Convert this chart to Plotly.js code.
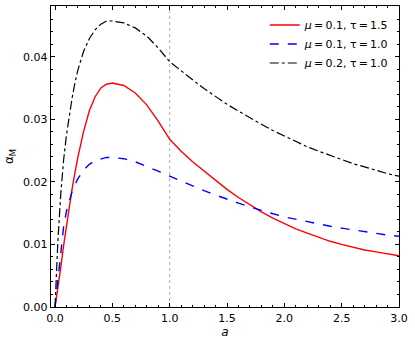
<!DOCTYPE html>
<html>
<head>
<meta charset="utf-8">
<script src="https://cdn.plot.ly/plotly-3.0.1.min.js"></script>
<style>
  html, body { margin: 0; padding: 0; background: #fff; }
  #plot { width: 415px; height: 343px; }
</style>
</head>
<body>
<div id="plot"></div>
<script>
// scale factor a
let aVals = [0, 0.025, 0.05, 0.075, 0.1, 0.125, 0.15, 0.175, 0.2, 0.25, 0.3, 0.35, 0.4, 0.45, 0.5,
             0.6, 0.7, 0.8, 0.9, 1.0, 1.1, 1.2, 1.3, 1.4, 1.5, 1.6, 1.7, 1.8, 1.9, 2.0,
             2.1, 2.2, 2.3, 2.4, 2.5, 2.6, 2.7, 2.8, 2.9, 3.0];

// alpha_M for each parameter set
let redVals = [0, 0.0028, 0.0063, 0.0098, 0.0130, 0.0161, 0.0190, 0.0216, 0.0240, 0.0281, 0.0314, 0.0336, 0.0350, 0.0356, 0.0358,
               0.0354, 0.0342, 0.0323, 0.0297, 0.0268, 0.0249, 0.0232, 0.0217, 0.0202, 0.0188, 0.0175, 0.0163, 0.0152, 0.0142, 0.0133,
               0.0125, 0.0118, 0.0111, 0.0105, 0.0100, 0.0095, 0.0091, 0.0088, 0.0085, 0.0082];
let blueVals = [0, 0.0045, 0.0092, 0.0128, 0.0153, 0.0171, 0.0185, 0.0196, 0.0205, 0.0219, 0.0228, 0.0234, 0.0237, 0.0239, 0.0239,
                0.0237, 0.0232, 0.0225, 0.0217, 0.0209, 0.0201, 0.0193, 0.0186, 0.0179, 0.0172, 0.0166, 0.0160, 0.0154, 0.0149, 0.0144,
                0.0140, 0.0136, 0.0132, 0.0129, 0.0126, 0.0123, 0.0120, 0.0118, 0.0115, 0.0113];
let blackVals = [0, 0.0105, 0.0180, 0.0235, 0.0275, 0.0307, 0.0335, 0.0359, 0.0379, 0.0409, 0.0429, 0.0443, 0.0452, 0.0457, 0.0457,
                 0.0454, 0.0446, 0.0433, 0.0414, 0.0392, 0.0377, 0.0363, 0.0349, 0.0336, 0.0324, 0.0313, 0.0302, 0.0292, 0.0282, 0.0273,
                 0.0264, 0.0256, 0.0249, 0.0242, 0.0235, 0.0229, 0.0224, 0.0218, 0.0213, 0.0209];

let names = ["<i>μ</i>\u2009=\u20090.1, τ\u2009=\u20091.5",
             "<i>μ</i>\u2009=\u20090.1, τ\u2009=\u20091.0",
             "<i>μ</i>\u2009=\u20090.2, τ\u2009=\u20091.0"];

let trace1 = {
  x: aVals, y: redVals, type: "scatter", mode: "lines", name: names[0],
  line: { color: "#ff0000", width: 1.4 },
};
let trace2 = {
  x: aVals, y: blueVals, type: "scatter", mode: "lines", name: names[1],
  line: { color: "#0000ff", width: 1.4, dash: "dash" },
};
let trace3 = {
  x: aVals, y: blackVals, type: "scatter", mode: "lines", name: names[2],
  line: { color: "#000000", width: 1.2, dash: "dashdot" },
};

let axisCommon = {
  showline: true, linecolor: "#000", linewidth: 1.3, mirror: "allticks",
  ticks: "inside", ticklen: 4, tickwidth: 1, tickcolor: "#000",
  showgrid: false, zeroline: false,
  tickfont: { family: "DejaVu Sans", size: 11, color: "#000" },
};

let layout = {
  width: 415, height: 343,
  margin: { l: 51, r: 16, t: 6, b: 36 },
  paper_bgcolor: "#fff", plot_bgcolor: "#fff",
  font: { family: "DejaVu Sans", color: "#000" },
  xaxis: Object.assign({}, axisCommon, {
    range: [-0.035, 3.0], dtick: 0.5, tick0: 0, tickformat: ".1f",
    minor: { ticks: "inside", dtick: 0.1, ticklen: 2, tickcolor: "#000" },
    title: { text: "<i>a</i>", font: { size: 12 }, standoff: 2 },
  }),
  yaxis: Object.assign({}, axisCommon, {
    range: [0, 0.0481], dtick: 0.01, tick0: 0, tickformat: ".2f",
    minor: { ticks: "inside", dtick: 0.002, ticklen: 2, tickcolor: "#000" },
    title: { text: "α<sub>M</sub>", font: { size: 12 }, standoff: 6 },
  }),
  legend: {
    x: 0.985, y: 0.985, xanchor: "right", yanchor: "top",
    bgcolor: "rgba(0,0,0,0)", borderwidth: 0,
    font: { family: "DejaVu Sans", size: 11 },
    tracegroupgap: 0, itemwidth: 30,
  },
  shapes: [{
    type: "line", xref: "x", yref: "paper", x0: 1.0, x1: 1.0, y0: 0, y1: 1,
    line: { color: "#999", width: 0.8, dash: "dot" }, layer: "below",
  }],
  showlegend: true,
};

Plotly.newPlot("plot", [trace1, trace2, trace3], layout, { displayModeBar: false, staticPlot: true });
</script>
</body>
</html>
